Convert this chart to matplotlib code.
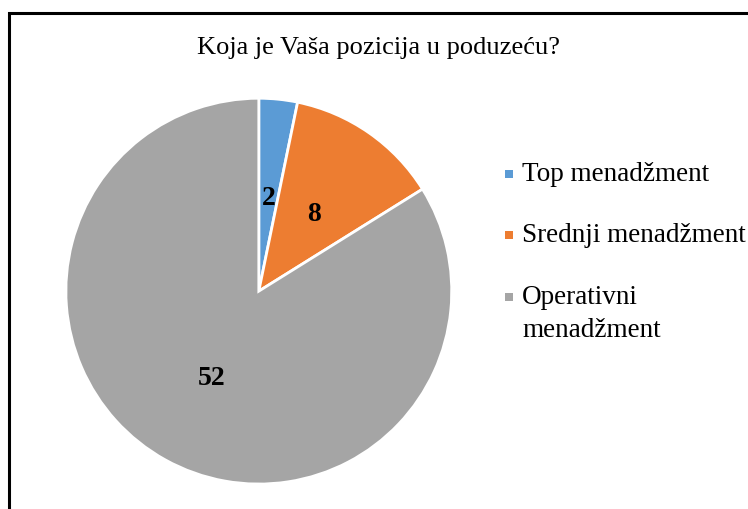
import matplotlib.pyplot as plt
from matplotlib.patches import Rectangle

categories = ["Top menadžment", "Srednji menadžment", "Operativni\nmenadžment"]
values = [2, 8, 52]
colors = ["#5B9BD5", "#ED7D31", "#A5A5A5"]
title = "Koja je Vaša pozicija u poduzeću?"

plt.rcParams["font.family"] = ["Liberation Serif", "DejaVu Serif"]

W, H = 748, 509
fig = plt.figure(figsize=(W / 100, H / 100), dpi=100)

# frame: left and top edges visible, right/bottom run off the image
fig.patches.append(
    Rectangle((9 / W, -0.1), 1.2, 1 - 13 / H + 0.1,
              transform=fig.transFigure, fill=False,
              edgecolor="black", linewidth=2.2)
)

ax = fig.add_axes([0.088, 0.049, 0.516, 0.758])
wedges, texts, autotexts = ax.pie(
    values,
    colors=colors,
    startangle=90,
    counterclock=False,
    autopct=lambda p: f"{round(p * sum(values) / 100):d}",
    pctdistance=0.5,
    wedgeprops={"edgecolor": "white", "linewidth": 2},
    textprops={"fontsize": 20, "fontweight": "bold", "color": "black"},
)
for t in autotexts:
    t.set_va("center_baseline")
ax.set_xlim(-1, 1)
ax.set_ylim(-1, 1)
ax.set_aspect("equal")

fig.text(0.506, 1 - 48 / H, title, ha="center", va="center", fontsize=19)

# legend drawn by hand so the marker sits on the first text line
baselines = [181, 242, 304]
line_step = 33
for label, color, base in zip(categories, colors, baselines):
    fig.patches.append(
        Rectangle((505 / W, 1 - (base - 3) / H), 8 / W, 8 / H,
                  transform=fig.transFigure, facecolor=color,
                  edgecolor="none")
    )
    for i, line in enumerate(label.split("\n")):
        fig.text(522 / W, 1 - (base + i * line_step) / H, line,
                 ha="left", va="baseline", fontsize=19.5)

fig.savefig("out.png", dpi=100)
